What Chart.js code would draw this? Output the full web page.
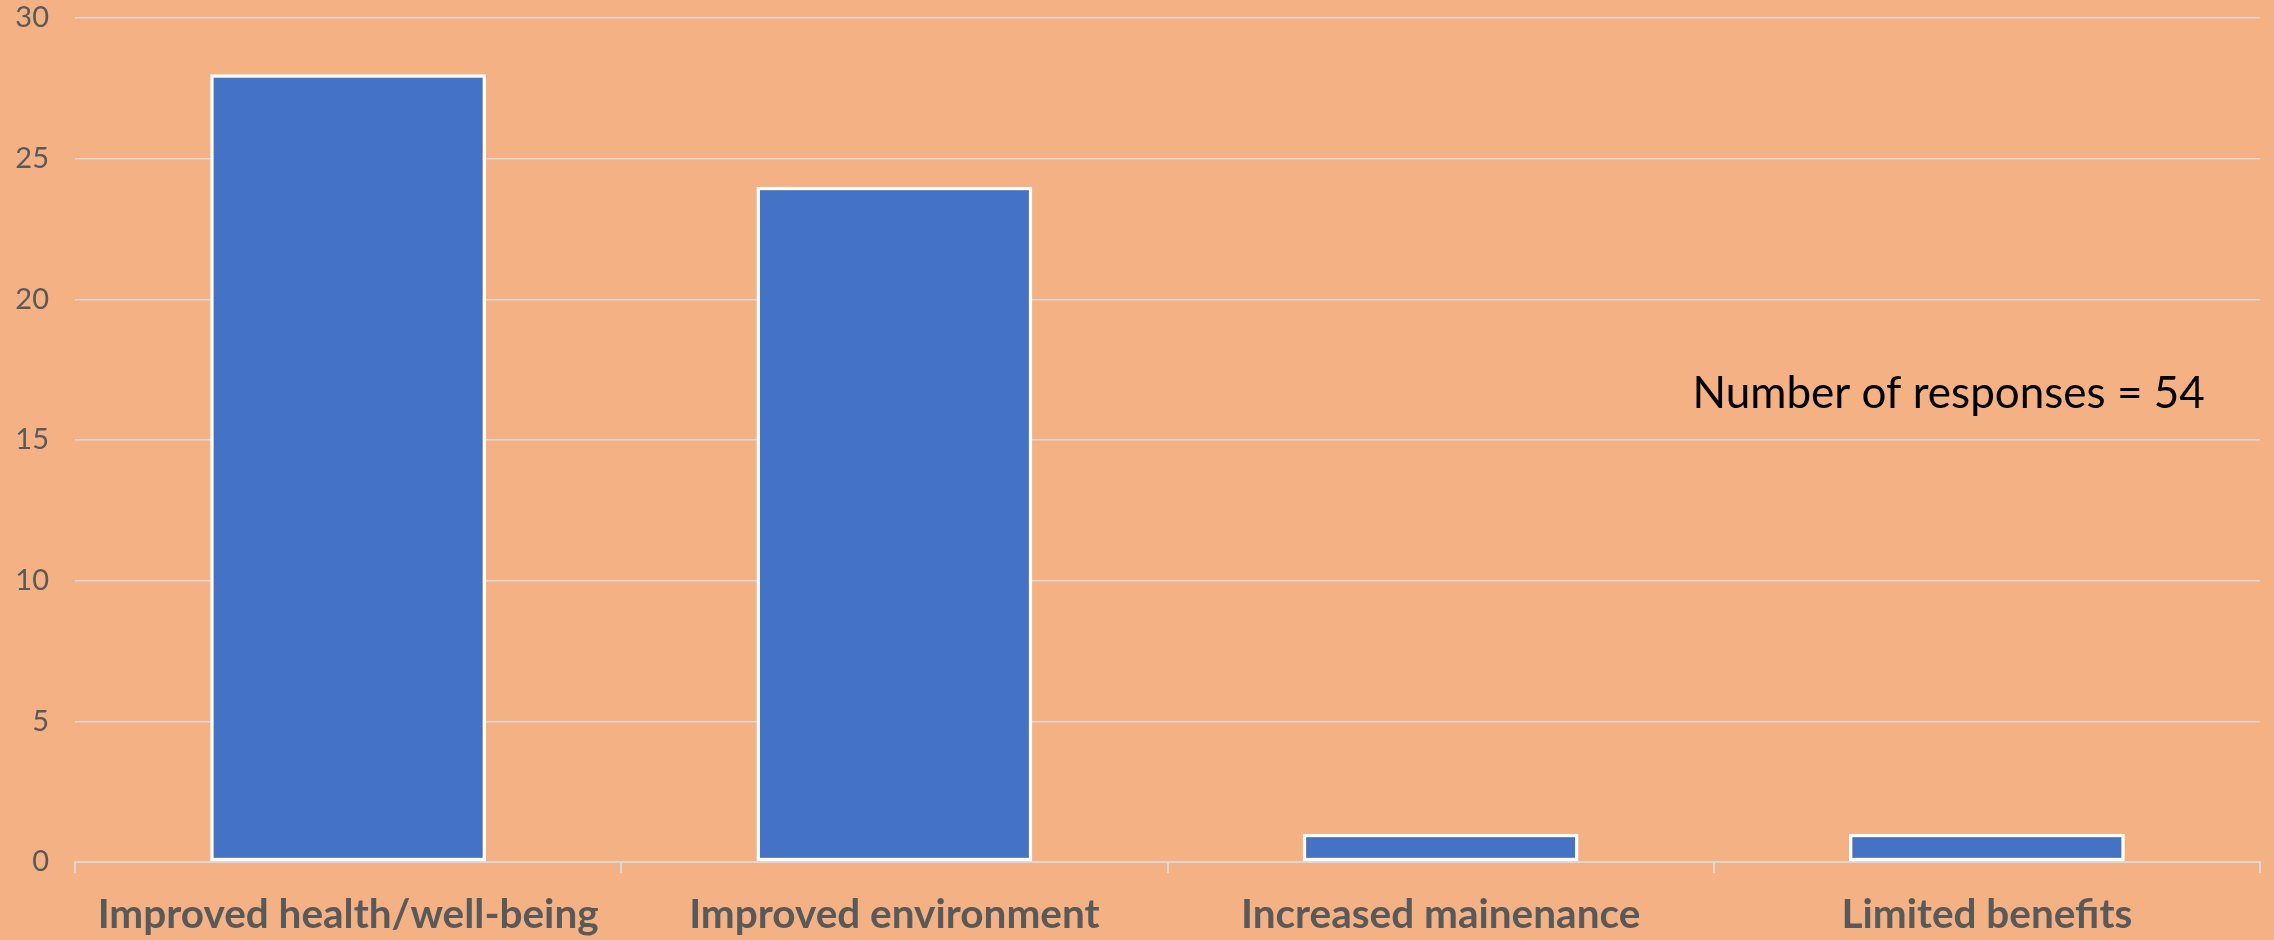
<!DOCTYPE html>
<html>
<head>
<meta charset="utf-8">
<script src="https://cdn.jsdelivr.net/npm/chart.js@4/dist/chart.umd.min.js"></script>
<style>
    html, body { margin: 0; padding: 0; background: #F4B183; }
    #wrap { width: 2274px; height: 940px; }
</style>
</head>
<body>
<div id="wrap"><canvas id="chart"></canvas></div>
<script>
const categories = ['Improved health/well-being', 'Improved environment', 'Increased mainenance', 'Limited benefits'];
const responses = [28, 24, 1, 1];
const yTicks = [0, 5, 10, 15, 20, 25, 30];
const noteText = 'Number of responses = 54';

const gridColor = '#D9D9D9';
const labelColor = '#595959';

// text box on the right, placed in data units so it follows the axes
const notePlugin = {
    id: 'note',
    afterDraw(chart) {
        const ctx = chart.ctx;
        const x = chart.scales.x.getPixelForValue(2.93);
        const y = chart.scales.y.getPixelForValue(16.15);
        ctx.save();
        ctx.font = '44px Lato';
        ctx.fillStyle = '#000000';
        ctx.textAlign = 'center';
        ctx.textBaseline = 'alphabetic';
        ctx.fillText(noteText, x, y);
        ctx.restore();
    }
};

new Chart(document.getElementById('chart').getContext('2d'), {
    type: 'bar',
    data: {
        labels: categories,
        datasets: [{
            data: responses,
            backgroundColor: '#4472C4',
            borderColor: '#FFFFFF',
            borderWidth: 3.5,
            borderSkipped: false,
            barPercentage: 0.505,
            categoryPercentage: 1
        }]
    },
    options: {
        responsive: true,
        maintainAspectRatio: false,
        animation: false,
        layout: { padding: { top: 18, right: 14, left: 0, bottom: 0 } },
        plugins: {
            legend: { display: false },
            tooltip: { enabled: false }
        },
        scales: {
            x: {
                grid: {
                    offset: true,
                    drawOnChartArea: false,
                    drawTicks: true,
                    tickLength: 11,
                    color: gridColor,
                    lineWidth: 2
                },
                border: { display: true, color: gridColor, width: 2 },
                ticks: {
                    color: labelColor,
                    font: { family: 'Lato', size: 40.5, weight: 'bold' },
                    padding: 18,
                    maxRotation: 0,
                    autoSkip: false
                },
                afterFit: s => { s.height = 78; }
            },
            y: {
                min: 0,
                max: 30,
                afterBuildTicks: s => { s.ticks = yTicks.map(v => ({ value: v })); },
                grid: { color: gridColor, lineWidth: 1.5, drawTicks: false },
                border: { display: false },
                ticks: {
                    color: labelColor,
                    font: { family: 'Lato', size: 29 },
                    padding: 26
                },
                afterFit: s => {
                    s.width = 75;
                    s.paddingTop = 17;
                    s.paddingBottom = 17;
                }
            }
        }
    },
    plugins: [notePlugin]
});
</script>
</body>
</html>
